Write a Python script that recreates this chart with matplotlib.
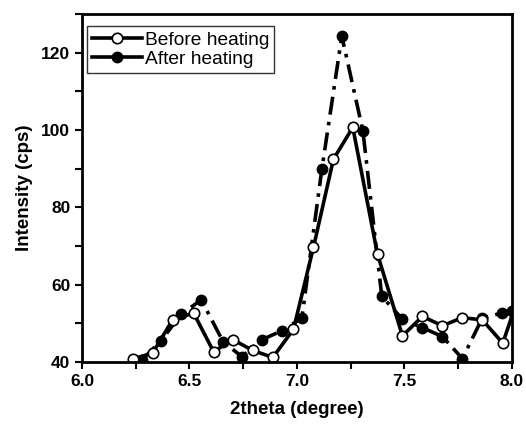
import numpy as np
import matplotlib
matplotlib.use('Agg')
import matplotlib.pyplot as plt
from matplotlib.ticker import MultipleLocator

plt.rcParams['font.family'] = ['Liberation Sans', 'DejaVu Sans']

# before heating (open circles)
x_before = [6.235, 6.328, 6.421, 6.519, 6.612, 6.702, 6.795, 6.888, 6.984, 7.077,
            7.170, 7.260, 7.375, 7.491, 7.584, 7.677, 7.770, 7.863, 7.958, 8.05]
y_before = [40.8, 42.3, 50.9, 52.7, 42.7, 45.8, 43.0, 41.2, 48.5, 69.7,
            92.5, 100.7, 67.9, 46.8, 51.8, 49.4, 51.5, 50.9, 44.9, 60.0]

# after heating (filled circles)
x_after = [6.279, 6.367, 6.462, 6.555, 6.656, 6.744, 6.837, 6.930, 7.023, 7.116,
           7.209, 7.307, 7.395, 7.491, 7.584, 7.677, 7.770, 7.863, 7.956, 8.0]
y_after = [40.6, 45.5, 52.4, 56.1, 45.3, 41.4, 45.8, 48.1, 51.4, 89.9,
           124.3, 99.8, 57.0, 51.1, 48.9, 46.6, 40.9, 51.4, 52.7, 53.1]

fig = plt.figure(figsize=(5.26, 4.28), dpi=100)
ax = fig.add_axes([0.156, 0.154, 0.817, 0.813])

l2, = ax.plot(x_after, y_after, color='black', lw=2.6, ls=(0, (5, 2, 1, 2)),
              marker='o', ms=7.5, mfc='black', mec='black', label='After heating')
l1, = ax.plot(x_before, y_before, color='black', lw=2.6, ls='-',
              marker='o', ms=7.5, mfc='white', mec='black', mew=1.2, label='Before heating')

ax.set_xlim(6.0, 8.0)
ax.set_ylim(40, 130)
ax.xaxis.set_major_locator(MultipleLocator(0.5))
ax.xaxis.set_minor_locator(MultipleLocator(0.25))
ax.yaxis.set_major_locator(MultipleLocator(20))
ax.yaxis.set_minor_locator(MultipleLocator(10))
ax.tick_params(which='both', direction='out', width=1.5, length=5, labelsize=12.5)
for lab in ax.get_xticklabels() + ax.get_yticklabels():
    lab.set_fontweight('bold')
for s in ax.spines.values():
    s.set_linewidth(2)

ax.set_xlabel('2theta (degree)', fontsize=13.5, fontweight='bold', labelpad=9)
ax.set_ylabel('Intensity (cps)', fontsize=13.5, fontweight='bold', labelpad=6)

leg = ax.legend(handles=[l1, l2], loc='upper left', bbox_to_anchor=(0.012, 0.965),
                fontsize=13.8, frameon=True, fancybox=False, handlelength=2.6,
                handletextpad=0.15, borderpad=0.25, labelspacing=0.1, borderaxespad=0)
leg.get_frame().set_edgecolor('black')
leg.get_frame().set_linewidth(1)
for h in leg.get_lines():
    h.set_linestyle('-')

fig.savefig('out.png', dpi=100)
